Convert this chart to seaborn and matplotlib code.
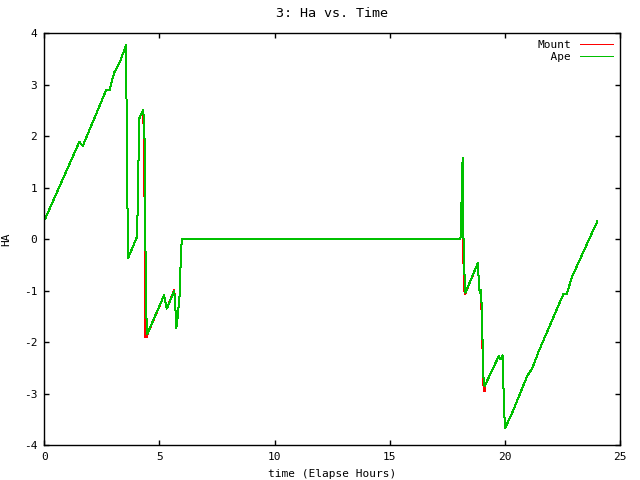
import pandas as pd
import seaborn as sns
import matplotlib as mpl
import matplotlib.pyplot as plt

sns.set_style("white")

mpl_dict = {'font.family': ['DejaVu Sans Mono'],
 'font.size': 8,
 'axes.unicode_minus': False,
 'lines.antialiased': False,
 'axes.edgecolor': 'black',
 'axes.linewidth': 1.0,
 'xtick.direction': 'in',
 'ytick.direction': 'in',
 'xtick.top': True,
 'ytick.right': True,
 'xtick.bottom': True,
 'ytick.left': True,
 'xtick.color': 'black',
 'ytick.color': 'black',
 'text.color': 'black',
 'axes.labelcolor': 'black'}

for key, value in mpl_dict.items():
    mpl.rcParams[key] = value

# Ape track (hours, hour angle)
ape_t = [0.02, 1.52, 1.67, 2.68, 2.83, 3.03, 3.29, 3.55, 3.57, 3.61, 3.65,
         4.02, 4.06, 4.10, 4.13, 4.30, 4.36, 4.38, 4.40, 4.42, 4.47,
         5.20, 5.32, 5.64, 5.68, 5.73, 5.78, 5.87, 5.93, 5.97,
         18.04, 18.10, 18.11, 18.13, 18.17, 18.19, 18.23, 18.29,
         18.83, 18.88, 18.91, 18.97, 19.00, 19.05, 19.08, 19.12, 19.16,
         19.74, 19.81, 19.91, 19.93, 19.96, 20.02, 20.39, 20.97, 21.19,
         21.48, 22.54, 22.68, 22.93, 24.02]
ape_ha = [0.38, 1.89, 1.81, 2.89, 2.89, 3.23, 3.45, 3.77, 2.74, 0.69, -0.36,
          0.04, 0.64, 1.77, 2.35, 2.51, 1.87, 0.64, -0.50, -1.36, -1.85,
          -1.09, -1.35, -1.01, -1.20, -1.73, -1.56, -1.13, -0.36, 0.00,
          0.00, 0.06, 0.41, 1.17, 1.58, 0.35, -0.52, -1.04,
          -0.46, -0.91, -1.05, -0.99, -1.43, -2.30, -2.79, -2.85, -2.82,
          -2.27, -2.33, -2.26, -2.62, -3.30, -3.67, -3.30, -2.66, -2.51,
          -2.17, -1.07, -1.07, -0.72, 0.35]

# Mount track (hours, hour angle)
mount_t = [0.02, 1.52, 1.67, 2.68, 2.83, 3.03, 3.29, 3.55, 3.57, 3.61, 3.65,
           4.02, 4.06, 4.10, 4.13, 4.30, 4.32, 4.33, 4.36, 4.37, 4.38, 4.46, 4.48,
           5.20, 5.32, 5.62, 5.64, 5.68, 5.73, 5.78, 5.87, 5.93, 5.97,
           18.04, 18.10, 18.11, 18.13, 18.15, 18.16, 18.18, 18.22, 18.25, 18.28,
           18.83, 18.88, 18.91, 18.97, 18.99, 19.04, 19.05, 19.07, 19.08, 19.12, 19.16,
           19.74, 19.81, 19.91, 19.93, 19.96, 20.02, 20.39, 20.97, 21.19,
           21.48, 22.54, 22.68, 22.93, 24.02]
mount_ha = [0.38, 1.89, 1.81, 2.89, 2.89, 3.23, 3.45, 3.77, 2.74, 0.69, -0.36,
            0.04, 0.64, 1.77, 2.35, 2.51, 1.87, 1.41, 0.62, -0.40, -1.91, -1.91, -1.85,
            -1.09, -1.35, -1.01, -0.98, -1.20, -1.73, -1.56, -1.13, -0.36, 0.00,
            0.00, 0.06, 0.41, 1.17, 0.93, 0.35, -0.40, -0.52, -1.04, -1.06,
            -0.46, -0.91, -1.05, -0.99, -1.43, -2.30, -2.43, -2.79, -2.95, -2.95, -2.82,
            -2.27, -2.33, -2.26, -2.62, -3.30, -3.67, -3.30, -2.66, -2.51,
            -2.17, -1.07, -1.07, -0.72, 0.35]

df = pd.concat([
    pd.DataFrame({"time": mount_t, "HA": mount_ha, "src": "Mount"}),
    pd.DataFrame({"time": ape_t, "HA": ape_ha, "src": "  Ape"}),
], ignore_index=True)

fig = plt.figure(figsize=(6.4, 4.8), dpi=100)
ax = fig.add_axes([0.0692, 0.0729, 0.8995, 0.8577])

sns.lineplot(data=df, x="time", y="HA", hue="src", units="src",
             estimator=None, sort=False, linewidth=0.72,
             palette={"Mount": "#ff0000", "  Ape": "#00c000"}, ax=ax)

ax.set_xlim(0, 25)
ax.set_ylim(-4, 4)
ax.set_xticks([0, 5, 10, 15, 20, 25])
ax.set_yticks(range(-4, 5))
ax.tick_params(length=3.6, width=1.0, pad=5)
ax.set_title("3: Ha vs. Time", pad=12)
ax.set_xlabel("time (Elapse Hours)", labelpad=5)
ax.set_ylabel("HA")
ax.yaxis.set_label_coords(-0.058, 0.5)

leg = ax.legend(loc="upper right", frameon=False, markerfirst=False,
                handlelength=3.0, handletextpad=0.8, labelspacing=0.15,
                borderaxespad=0.2, title=None)

fig.savefig("out.png", dpi=100)
